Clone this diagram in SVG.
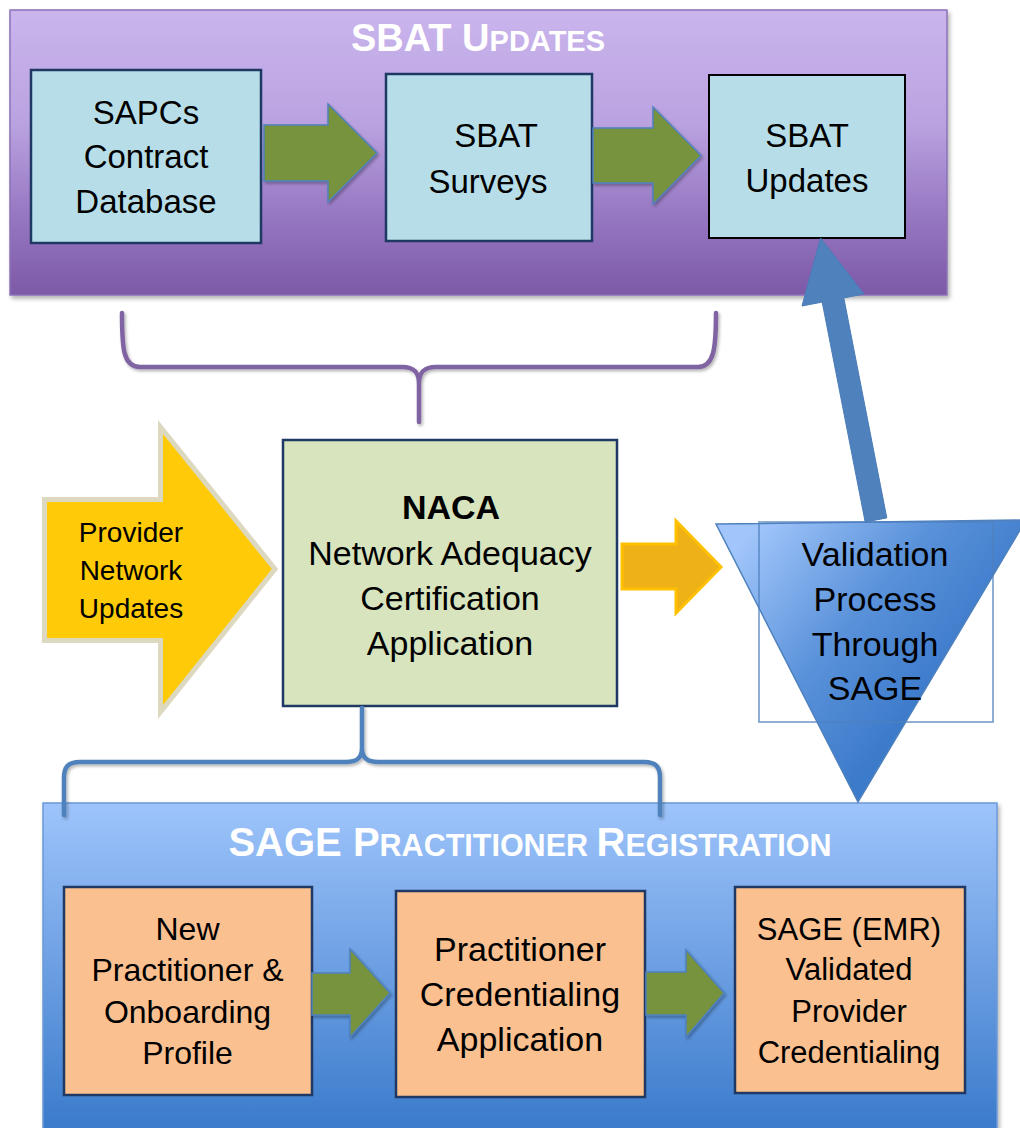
<svg xmlns="http://www.w3.org/2000/svg" width="1020" height="1128" viewBox="0 0 1020 1128">
<defs>
<linearGradient id="gPurple" x1="0" y1="0" x2="0" y2="1">
<stop offset="0" stop-color="#CAB5ED"/><stop offset="0.4" stop-color="#BAA2E0"/><stop offset="0.72" stop-color="#9677C2"/><stop offset="1" stop-color="#7D59A7"/>
</linearGradient>
<linearGradient id="gBlue" gradientUnits="userSpaceOnUse" x1="0" y1="803" x2="0" y2="1128">
<stop offset="0" stop-color="#9EC4FB"/><stop offset="1" stop-color="#3B7BCB"/>
</linearGradient>
<linearGradient id="gTri" x1="0.1" y1="0.05" x2="0.75" y2="0.55">
<stop offset="0" stop-color="#A2C6FB"/><stop offset="0.55" stop-color="#5A92DA"/><stop offset="1" stop-color="#3C7ACA"/>
</linearGradient>
<filter id="sh" x="-10%" y="-10%" width="125%" height="130%">
<feDropShadow dx="2" dy="3" stdDeviation="2" flood-color="#000" flood-opacity="0.3"/>
</filter>
<filter id="shs" x="-10%" y="-10%" width="130%" height="130%">
<feDropShadow dx="1.5" dy="2" stdDeviation="1.5" flood-color="#000" flood-opacity="0.3"/>
</filter>
</defs>
<style>
text{font-family:"Liberation Sans",Arial,sans-serif;fill:#000;text-anchor:middle}
.title{font-weight:bold;fill:#FFFFFF}
.t33{font-size:33px}
.t34{font-size:34px}
.t32{font-size:32px}
.t31{font-size:31px}
.t28{font-size:28px}
.blueBox{fill:#B7DEE8;stroke:#1F3864;stroke-width:2.5}
.orangeBox{fill:#FAC090;stroke:#1F3864;stroke-width:2.5}
.green{fill:#77933C;stroke:#4F81BD;stroke-width:1.5;filter:url(#shs)}
.brace{fill:none;stroke-width:4.5;stroke-linecap:round;stroke-linejoin:round;filter:url(#shs)}
</style>

<g id="sbat-panel">
<rect x="10" y="10" width="937" height="285" fill="url(#gPurple)" stroke="#8C70B8" stroke-width="1.5" filter="url(#sh)"/>
<text class="title" x="478" y="51"><tspan font-size="38">SBAT U</tspan><tspan font-size="29">PDATES</tspan></text>
</g>

<g id="sapcs-db">
<rect class="blueBox" x="31" y="70" width="230" height="173"/>
<text class="t33" x="146" y="124">SAPCs</text>
<text class="t33" x="146" y="168">Contract</text>
<text class="t33" x="146" y="213">Database</text>
</g>

<g id="sbat-surveys">
<rect class="blueBox" x="386" y="74" width="206" height="167"/>
<text class="t33" x="496" y="147">SBAT</text>
<text class="t33" x="488" y="193">Surveys</text>
</g>

<g id="sbat-updates">
<rect x="709" y="75" width="196" height="163" fill="#B7DEE8" stroke="#000" stroke-width="2"/>
<text class="t33" x="807" y="147">SBAT</text>
<text class="t33" x="807" y="192">Updates</text>
</g>

<g id="sage-panel">
<rect x="43" y="803" width="954" height="340" fill="url(#gBlue)" stroke="#6A98D8" stroke-width="1.5" filter="url(#sh)"/>
<text class="title" x="530" y="856"><tspan font-size="40">SAGE P</tspan><tspan font-size="30.5">RACTITIONER </tspan><tspan font-size="40">R</tspan><tspan font-size="30.5">EGISTRATION</tspan></text>
</g>

<g id="new-practitioner">
<rect class="orangeBox" x="64" y="887" width="248" height="208"/>
<text class="t32" x="187.5" y="940">New</text>
<text class="t32" x="187.5" y="981">Practitioner &amp;</text>
<text class="t32" x="187.5" y="1023">Onboarding</text>
<text class="t32" x="187.5" y="1064">Profile</text>
</g>

<g id="credentialing-app">
<rect class="orangeBox" x="396" y="891" width="249" height="206"/>
<text class="t34" x="520" y="961">Practitioner</text>
<text class="t34" x="520" y="1006">Credentialing</text>
<text class="t34" x="520" y="1051">Application</text>
</g>

<g id="sage-emr">
<rect class="orangeBox" x="735" y="887" width="230" height="206"/>
<text class="t31" x="849" y="940">SAGE (EMR)</text>
<text class="t31" x="849" y="980">Validated</text>
<text class="t31" x="849" y="1022">Provider</text>
<text class="t31" x="849" y="1063">Credentialing</text>
</g>

<g id="provider-network-updates">
<polygon points="44.5,499.5 160.5,499.5 160.5,427 275,569 160.5,712 160.5,640.5 44.5,640.5" fill="#FFCA08" stroke="#DDD8C0" stroke-width="5" stroke-linejoin="miter"/>
<text class="t28" x="131" y="542">Provider</text>
<text class="t28" x="131" y="580">Network</text>
<text class="t28" x="131" y="618">Updates</text>
</g>

<g id="naca">
<rect x="283" y="440" width="334" height="266" fill="#D7E4BD" stroke="#1F3864" stroke-width="2.5"/>
<text class="t34" x="451" y="519" font-weight="bold">NACA</text>
<text class="t34" x="450" y="565">Network Adequacy</text>
<text class="t34" x="450" y="610">Certification</text>
<text class="t34" x="450" y="655">Application</text>
</g>

<g id="validation">
<polygon points="716,524 1026,520 858,802" fill="url(#gTri)" stroke="#4F81BD" stroke-width="1.5"/>
<rect x="759" y="522" width="234" height="200" fill="none" stroke="#4F81BD" stroke-width="1.5" stroke-opacity="0.85"/>
<text class="t34" x="875" y="566">Validation</text>
<text class="t34" x="875" y="611">Process</text>
<text class="t34" x="875" y="656">Through</text>
<text class="t34" x="875" y="700">SAGE</text>
</g>

<g id="connectors">
<polygon class="green" points="264,125 328,125 328,104 377,153 328,202 328,181 264,181"/>
<polygon class="green" points="593,128 653,128 653,107 701,155.5 653,204 653,183 593,183"/>
<polygon class="green" points="312,973 350,973 350,949 390,993 350,1037 350,1015 312,1015"/>
<polygon class="green" points="646,972 686,972 686,950 724,993 686,1037 686,1015 646,1015"/>
<polygon points="622,544 676,544 676,521 721,567 676,613 676,589 622,589" fill="#EEB117" stroke="#FFC000" stroke-width="3" stroke-linejoin="miter"/>
<polygon points="822.2,302.1 802,306 820.5,238 864,294 843.8,297.9 886.8,517.9 865.2,522.1" fill="#4F81BD" stroke="#4A7CB8" stroke-width="1"/>
<path class="brace" stroke="#8064A2" d="M122,313 C122,348 123,367 140,367 L402,367 C414,367 419,372 419,384 L419,422 M419,384 C419,372 424,367 436,367 L698,367 C714,367 716,348 716,313"/>
<path class="brace" stroke="#4F81BD" d="M64,815 L64,778 C64,767 68,762 80,762 L346,762 C357,762 362,758 362,748 L362,708 M362,748 C362,758 367,762 378,762 L644,762 C656,762 660,767 660,778 L660,815"/>
</g>
</svg>
